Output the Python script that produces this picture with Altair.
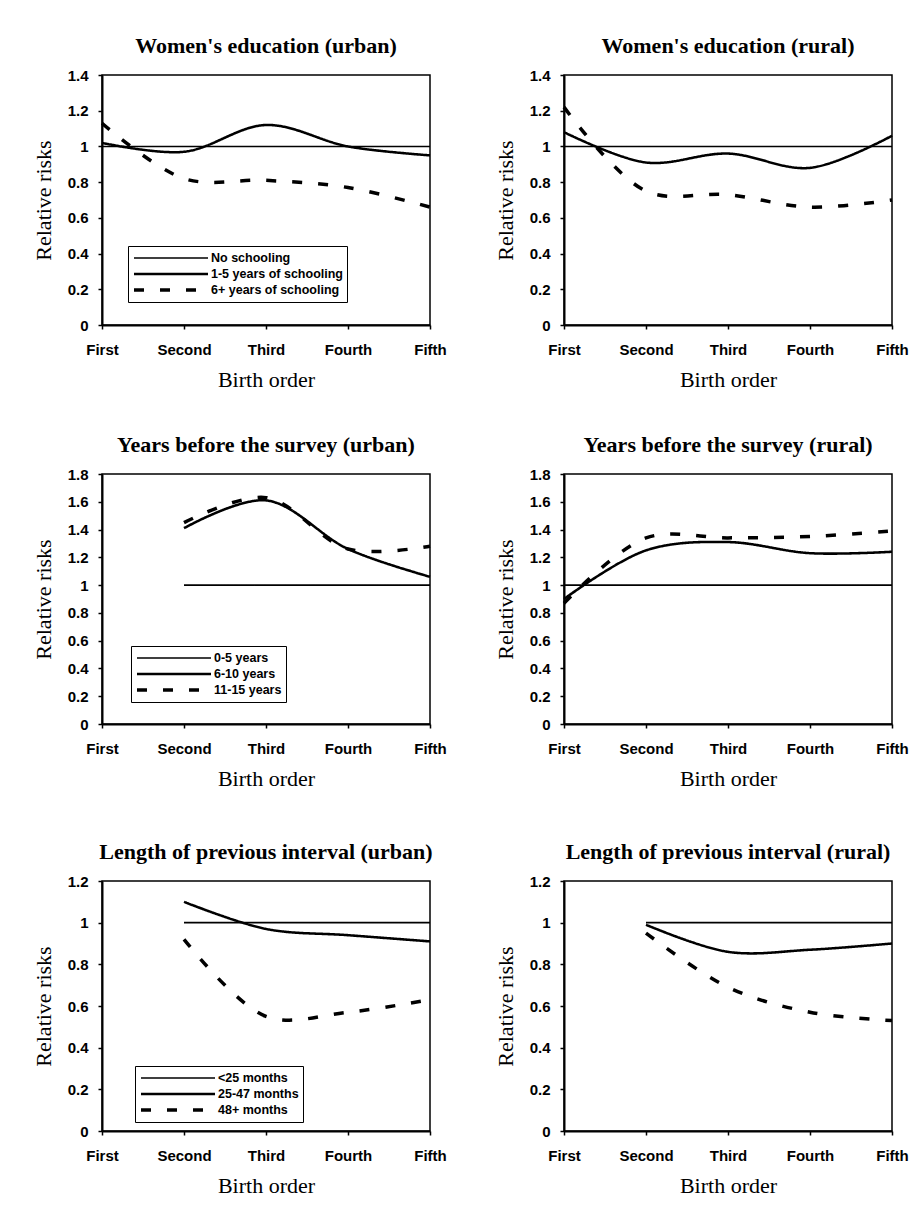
import altair as alt
import pandas as pd

BIRTH_ORDER = ["First", "Second", "Third", "Fourth", "Fifth"]

# Women's education
EDU_SERIES = ["No schooling", "1-5 years of schooling", "6+ years of schooling"]
EDU_URBAN_NONE = [1.0, 1.0, 1.0, 1.0, 1.0]
EDU_URBAN_1_5 = [1.02, 0.97, 1.12, 1.0, 0.95]
EDU_URBAN_6P = [1.13, 0.82, 0.81, 0.77, 0.66]
EDU_RURAL_NONE = [1.0, 1.0, 1.0, 1.0, 1.0]
EDU_RURAL_1_5 = [1.08, 0.91, 0.96, 0.88, 1.06]
EDU_RURAL_6P = [1.22, 0.75, 0.73, 0.66, 0.70]

# Years before the survey
YRS_SERIES = ["0-5 years", "6-10 years", "11-15 years"]
YRS_URBAN_0_5 = [None, 1.0, 1.0, 1.0, 1.0]
YRS_URBAN_6_10 = [None, 1.41, 1.61, 1.26, 1.06]
YRS_URBAN_11_15 = [None, 1.45, 1.63, 1.26, 1.28]
YRS_RURAL_0_5 = [1.0, 1.0, 1.0, 1.0, 1.0]
YRS_RURAL_6_10 = [0.90, 1.25, 1.31, 1.23, 1.24]
YRS_RURAL_11_15 = [0.87, 1.34, 1.34, 1.35, 1.39]

# Length of previous interval
INT_SERIES = ["<25 months", "25-47 months", "48+ months"]
INT_URBAN_LT25 = [None, 1.0, 1.0, 1.0, 1.0]
INT_URBAN_25_47 = [None, 1.10, 0.97, 0.94, 0.91]
INT_URBAN_48P = [None, 0.92, 0.55, 0.57, 0.63]
INT_RURAL_LT25 = [None, 1.0, 1.0, 1.0, 1.0]
INT_RURAL_25_47 = [None, 0.99, 0.86, 0.87, 0.90]
INT_RURAL_48P = [None, 0.95, 0.69, 0.57, 0.53]

Y_TICKS_14 = [0, 0.2, 0.4, 0.6, 0.8, 1, 1.2, 1.4]
Y_TICKS_18 = [0, 0.2, 0.4, 0.6, 0.8, 1, 1.2, 1.4, 1.6, 1.8]
Y_TICKS_12 = [0, 0.2, 0.4, 0.6, 0.8, 1, 1.2]

W, H = 328, 250


def panel(title, names, series, ymax, yticks, legend_pos=None):
    rows = []
    for name, vals in zip(names, series):
        for order, v in zip(BIRTH_ORDER, vals):
            if v is not None:
                rows.append({"order": order, "series": name, "value": v})
    df = pd.DataFrame(rows)
    if legend_pos is not None:
        leg = alt.Legend(
            title=None, orient="none", legendX=legend_pos[0], legendY=legend_pos[1],
            symbolType="stroke", symbolSize=74 * 74, symbolStrokeColor="black",
            clipHeight=16, rowPadding=0, labelFont="Liberation Sans",
            labelFontSize=12.5, labelFontWeight="bold", labelColor="black",
            strokeColor="black", fillColor="white", padding=4, labelOffset=1,
        )
    else:
        leg = None
    chart = alt.Chart(df).mark_line(interpolate="catmull-rom", color="black", strokeCap="butt").encode(
        x=alt.X("order:O", sort=BIRTH_ORDER,
                scale=alt.Scale(type="point", domain=BIRTH_ORDER, padding=0),
                axis=alt.Axis(title="Birth order", labelAngle=0, tickSize=4, labelPadding=13,
                              titlePadding=12)),
        y=alt.Y("value:Q", scale=alt.Scale(domain=[0, ymax], nice=False),
                axis=alt.Axis(title="Relative risks", values=yticks, format="~g", tickSize=4,
                              labelPadding=10, titlePadding=12)),
        strokeDash=alt.StrokeDash("series:N", sort=names,
                                  scale=alt.Scale(domain=names, range=[[1, 0], [1, 0], [10, 16]]),
                                  legend=leg),
        strokeWidth=alt.StrokeWidth("series:N", sort=names,
                                    scale=alt.Scale(domain=names, range=[1.6, 3.5, 3.5]),
                                    legend=leg),
    ).properties(
        width=W, height=H,
        title=alt.TitleParams(title, font="Liberation Serif", fontSize=22, fontWeight="bold",
                              color="black", offset=10),
    )
    return chart


p1 = panel("Women's education (urban)", EDU_SERIES,
           [EDU_URBAN_NONE, EDU_URBAN_1_5, EDU_URBAN_6P], 1.4, Y_TICKS_14, (26, 171))
p2 = panel("Women's education (rural)", EDU_SERIES,
           [EDU_RURAL_NONE, EDU_RURAL_1_5, EDU_RURAL_6P], 1.4, Y_TICKS_14)
p3 = panel("Years before the survey (urban)", YRS_SERIES,
           [YRS_URBAN_0_5, YRS_URBAN_6_10, YRS_URBAN_11_15], 1.8, Y_TICKS_18, (29, 172))
p4 = panel("Years before the survey (rural)", YRS_SERIES,
           [YRS_RURAL_0_5, YRS_RURAL_6_10, YRS_RURAL_11_15], 1.8, Y_TICKS_18)
p5 = panel("Length of previous interval (urban)", INT_SERIES,
           [INT_URBAN_LT25, INT_URBAN_25_47, INT_URBAN_48P], 1.2, Y_TICKS_12, (33, 185))
p6 = panel("Length of previous interval (rural)", INT_SERIES,
           [INT_RURAL_LT25, INT_RURAL_25_47, INT_RURAL_48P], 1.2, Y_TICKS_12)

res = dict(strokeDash="independent", strokeWidth="independent")
row1 = alt.hconcat(p1, p2, spacing=46).resolve_scale(**res)
row2 = alt.hconcat(p3, p4, spacing=46).resolve_scale(**res)
row3 = alt.hconcat(p5, p6, spacing=46).resolve_scale(**res)

upper = alt.vconcat(row1, row2, spacing=42).resolve_scale(**res)
chart = alt.vconcat(upper, row3, spacing=50).resolve_scale(**res).properties(
    padding={"left": 31, "top": 34, "right": 5, "bottom": 5},
    background="white",
).configure_view(
    stroke="black", strokeWidth=1.5
).configure_axis(
    domainColor="black", domainWidth=2, tickColor="black", tickWidth=1.5,
    labelColor="black", titleColor="black", grid=False,
    labelFont="Liberation Sans", labelFontSize=15, labelFontWeight="bold",
    titleFont="Liberation Serif", titleFontSize=22, titleFontWeight="normal",
)

chart.save("out.html", embed_options={"renderer": "svg", "actions": False})
